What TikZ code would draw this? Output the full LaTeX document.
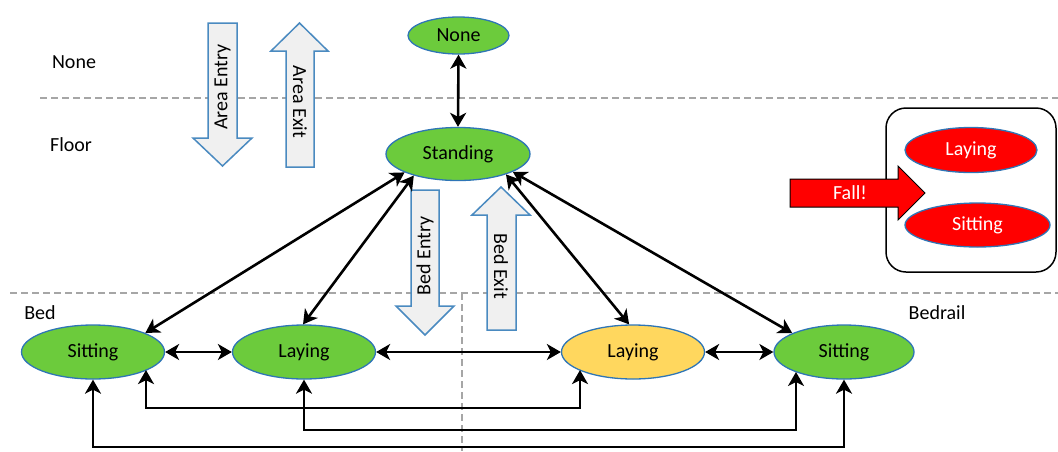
\documentclass[tikz,border=0pt]{standalone}
\usepackage{fontspec}
\setmainfont{Carlito}
\usetikzlibrary{arrows.meta,calc,shapes.geometric}
\definecolor{stgreen}{HTML}{6CCB3C}
\definecolor{styellow}{HTML}{FFD75E}
\definecolor{stred}{HTML}{FF0000}
\definecolor{stblue}{HTML}{2E75B6}
\definecolor{arrblue}{HTML}{4A8AC0}
\definecolor{arrfill}{HTML}{F0F0F0}
\definecolor{dashgray}{HTML}{A6A6A6}
\begin{document}
\begin{tikzpicture}[x=1pt,y=-1pt,
  every node/.style={font=\fontsize{20}{24}\selectfont},
  state/.style={ellipse, draw=stblue, line width=1.3pt, fill=stgreen, minimum width=143pt, minimum height=54pt, inner sep=0pt},
  fallstate/.style={ellipse, draw=stblue, line width=1.3pt, fill=stred, text=white, inner sep=0pt},
  conn/.style={line width=2.6pt, {Stealth[length=14pt,width=16pt,inset=4pt]}-{Stealth[length=14pt,width=16pt,inset=4pt]}},
  blockarrow/.style={draw=arrblue, fill=arrfill, line width=1.5pt, line join=miter},
  divider/.style={draw=dashgray, line width=1.2pt, dash pattern=on 7pt off 4pt},
  zonelabel/.style={inner sep=0pt}
]
\useasboundingbox (0,0) rectangle (1058,451);

% zone dividers
\draw[divider] (40,98) -- (1058,98);
\draw[divider] (10,293) -- (1058,293);
\draw[divider] (462,293) -- (462,451);

% zone labels
\node[zonelabel] (lnone) at (74,62) {None};
\node[zonelabel] (lfloor) at (71,145) {Floor};
\node[zonelabel] (lbed) at (40,313) {Bed};
\node[zonelabel] (lrail) at (937,313) {Bedrail};

% block arrows
\draw[blockarrow] (208,23) -- (237,23) -- (237,138) -- (252,138) -- (222.5,166) -- (193,138) -- (208,138) -- cycle;
\node[rotate=90] (aentry) at (222.5,87) {Area Entry};
\draw[blockarrow] (286,167) -- (314,167) -- (314,51) -- (328,51) -- (299.5,23) -- (271,51) -- (286,51) -- cycle;
\node[rotate=-90] (aexit) at (300,102) {Area Exit};
\draw[blockarrow] (411,190) -- (439,190) -- (439,306) -- (454,306) -- (425,335) -- (396,306) -- (411,306) -- cycle;
\node[rotate=90] (bentry) at (425,256) {Bed Entry};
\draw[blockarrow] (487,330) -- (516,330) -- (516,215) -- (530,215) -- (501,187) -- (472,215) -- (487,215) -- cycle;
\node[rotate=-90] (bexit) at (501,266) {Bed Exit};

% states
\node[state, minimum width=101pt, minimum height=37pt] (none) at (458.5,35.5) {None};
\node[state, minimum width=144pt, minimum height=53pt] (st) at (458,154) {Standing};
\node[state] (bs) at (93,352) {Sitting};
\node[state] (bl) at (304,352) {Laying};
\node[state, fill=styellow] (rl) at (633,352) {Laying};
\node[state, minimum width=140pt] (rs) at (844,352) {Sitting};

% fall box
\draw[line width=1.5pt, rounded corners=20pt] (886,108) rectangle (1056,272);
\node[fallstate, minimum width=132pt, minimum height=45pt] (fl) at (971,150) {Laying};
\node[fallstate, minimum width=145pt, minimum height=44pt] (fs) at (977.5,225) {Sitting};
\draw[fill=stred, line width=1pt, line join=miter] (790,179) -- (898,179) -- (898,166) -- (925,193) -- (898,220) -- (898,207) -- (790,207) -- cycle;
\node[text=white] (fall) at (850,193) {Fall!};

% connectors
\draw[conn] (none.south) -- (st.north);
\draw[conn] (st.199) -- (bs.20);
\draw[conn] (st.206) -- (bl.92);
\draw[conn] (st.337) -- (rl.98);
\draw[conn] (st.342) -- (rs.160);
\draw[conn] (bs.east) -- (bl.west);
\draw[conn] (bl.east) -- (rl.west);
\draw[conn] (rl.east) -- (rs.west);

\coordinate (a1) at ($(bs.center)+(53,18.1)$);
\coordinate (a2) at ($(rl.center)+(-53,18.1)$);
\coordinate (b2) at ($(rs.center)+(-48,20)$);
\draw[conn] (a1) -- (a1 |- 0,408) -| (a2);
\draw[conn] (bl.south) -- (bl.south |- 0,430) -| (b2);
\draw[conn] (bs.south) -- (bs.south |- 0,447) -| (rs.south);
\end{tikzpicture}
\end{document}
